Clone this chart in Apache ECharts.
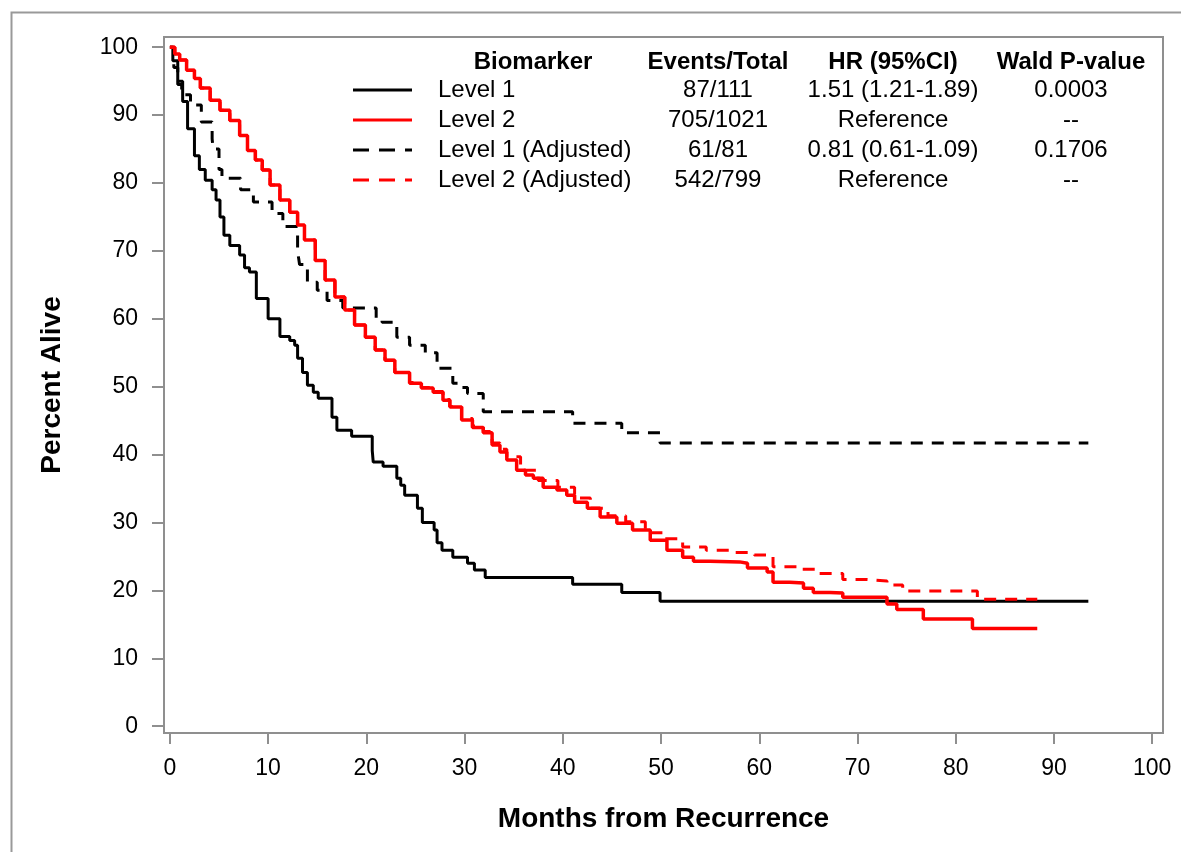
<!DOCTYPE html>
<html>
<head>
<meta charset="utf-8">
<title>Percent Alive by Biomarker</title>
<script src="https://cdn.jsdelivr.net/npm/echarts@6/dist/echarts.min.js"></script>
<style>
  html, body { margin: 0; padding: 0; background: #fff; }
  #chart { width: 1181px; height: 852px; }
</style>
</head>
<body>
<div id="chart"></div>
<script>
// tick labels
var xTicks = [0, 10, 20, 30, 40, 50, 60, 70, 80, 90, 100];
var yTicks = [0, 10, 20, 30, 40, 50, 60, 70, 80, 90, 100];

// legend table
var headers = ['Biomarker', 'Events/Total', 'HR (95%CI)', 'Wald P-value'];
var names = ['Level 1', 'Level 2', 'Level 1 (Adjusted)', 'Level 2 (Adjusted)'];
var events = ['87/111', '705/1021', '61/81', '542/799'];
var hrs = ['1.51 (1.21-1.89)', 'Reference', '0.81 (0.61-1.09)', 'Reference'];
var pvals = ['0.0003', '--', '0.1706', '--'];

// KM curves: [month, percent alive], value holds until the next point
var level1 = [[0,100],[0.3,98],[0.8,95],[1.3,92],[1.8,88],[2.5,84],[3.0,82],[3.6,80.4],[4.3,79],[4.7,77.5],
  [5.1,75],[5.5,72.3],[6.1,70.8],[7.1,69.4],[7.6,67.5],[8.1,66.9],[8.8,63],[10.0,60],[11.2,57.4],[12.2,56.8],
  [12.7,56.1],[13.0,54.2],[13.5,52.1],[14.0,50.2],[14.6,49.2],[15.1,48.3],[16.5,45.5],[17.0,43.6],[18.5,42.7],
  [20.6,40.6],[20.7,38.9],[21.7,38.3],[23.1,36.5],[23.5,35.5],[23.9,34.0],[25.2,32.1],[25.7,30.0],[26.9,28.9],
  [27.2,27.0],[27.7,25.9],[28.8,24.9],[30.3,24.0],[31.0,23.0],[32.1,21.9],[41.0,20.9],[46.0,19.7],[49.9,18.4],
  [93.5,18.4]];

var level2 = [[0,100],[0.5,99],[1.0,98.1],[1.7,96.6],[2.5,95.4],[3.1,94.0],[4.1,92.2],[5.1,90.7],[6.1,89.2],
  [7.1,87.0],[7.9,84.8],[8.7,83.4],[9.4,81.9],[10.2,79.7],[11.2,77.5],[12.2,75.7],[13.0,73.8],[13.7,71.6],
  [14.8,68.6],[15.8,65.7],[16.8,63.2],[17.8,61.3],[18.8,59.1],[19.9,57.3],[20.9,55.4],[21.9,53.9],[22.9,52.1],
  [24.4,50.5],[25.6,49.8],[26.8,49.2],[27.8,48.0],[28.5,47.0],[29.7,45.1],[30.8,44.0],[31.9,43.2],[32.8,41.4],
  [33.6,40.4],[34.3,39.2],[35.3,37.7],[36.2,37.0],[37.0,36.5],[38.0,35.2],[39.4,34.8],[40.4,34.0],[41.2,33.0],
  [42.5,32.1],[43.8,30.8],[45.5,29.9],[47.1,28.9],[48.9,27.4],[50.6,25.9],[52.2,24.9],[53.3,24.3],[55.0,24.2],
  [58.0,24.0],[58.8,23.3],[60.8,22.7],[61.4,21.2],[63.1,21.1],[64.5,20.3],[65.5,19.7],[67.2,19.6],[68.5,19.0],
  [73.0,18.0],[74.0,17.2],[76.7,15.8],[81.7,14.4],[88.3,14.4]];

var level1Adj = [[0,100],[0.4,97],[0.8,94.5],[1.2,93],[2.1,91.5],[3.2,89],[4.3,86.5],[4.4,85],[5.0,82],[5.3,80.7],
  [7.2,79],[8.5,77.2],[10.4,75.5],[11.5,73.6],[13.0,70],[13.2,68],[14.0,65.4],[15.0,64.2],[16.0,62.7],[17.6,61.6],
  [21.0,59.8],[21.6,59.5],[23.1,57.3],[24.4,56.1],[26.0,55.0],[27.2,52.7],[28.8,50.5],[29.3,49.9],[30.3,49.0],
  [31.9,46.3],[41.0,44.6],[46.0,43.2],[49.9,41.7],[93.5,41.7]];

var level2Adj = [[0,100],[0.5,99],[1.0,98.1],[1.7,96.6],[2.5,95.4],[3.1,94.0],[4.1,92.2],[5.1,90.7],[6.1,89.2],
  [7.1,87.0],[7.9,84.8],[8.7,83.4],[9.4,81.9],[10.2,79.7],[11.2,77.5],[12.2,75.7],[13.0,73.8],[13.7,71.6],
  [14.8,68.6],[15.8,65.7],[16.8,63.2],[17.8,61.3],[18.8,59.1],[19.9,57.3],[20.9,55.4],[21.9,53.9],[22.9,52.1],
  [24.4,50.6],[25.6,49.9],[26.8,49.3],[27.8,48.1],[28.5,47.1],[29.7,45.3],[30.8,44.2],[31.9,43.4],[32.8,41.7],
  [33.6,40.8],[34.3,39.7],[35.7,37.7],[37.5,36.2],[39.5,35.2],[41.2,33.6],[42.8,32.1],[44.6,31.0],[46.4,30.1],
  [48.4,28.5],[50.3,27.6],[52.2,26.4],[54.6,25.9],[57.3,25.6],[59.5,25.2],[61.4,23.5],[63.8,23.1],[66.0,22.5],
  [68.5,21.6],[71.0,21.4],[73.0,20.8],[74.6,19.9],[82.2,18.7],[88.3,18.7]];

(function() {
  var FONT = '"Liberation Sans", Arial, sans-serif';
  var frame = '#8f8f8f';
  var colors = ['#000000', '#ff0000', '#000000', '#ff0000'];
  var dashed = [false, false, true, true];
  var widths = [3, 3.5, 3, 3];
  var dash = [12, 9];

  var chart = echarts.init(document.getElementById('chart'), null, { renderer: 'canvas' });

  // legend table drawn as graphic text + sample lines
  var colX = [533, 718, 893, 1071];
  var rowY = [90, 120, 150, 180];
  var g = [];
  // outer border of the figure
  g.push({ type: 'rect', left: 9, top: 10, shape: { width: 1200, height: 900 },
    style: { fill: 'none', stroke: '#999', lineWidth: 2 }, silent: true });
  headers.forEach(function(h, i) {
    g.push({ type: 'text', x: colX[i], y: 62, style: { text: h, align: 'center', verticalAlign: 'middle',
      font: 'bold 24px ' + FONT, fill: '#000' } });
  });
  names.forEach(function(n, i) {
    var y = rowY[i];
    g.push({ type: 'line', shape: { x1: 353, y1: y, x2: 412, y2: y },
      style: { stroke: colors[i], lineWidth: 3, lineDash: dashed[i] ? [16, 10] : null } });
    g.push({ type: 'text', x: 438, y: y, style: { text: n, align: 'left', verticalAlign: 'middle', font: '24px ' + FONT, fill: '#000' } });
    g.push({ type: 'text', x: colX[1], y: y, style: { text: events[i], align: 'center', verticalAlign: 'middle', font: '24px ' + FONT, fill: '#000' } });
    g.push({ type: 'text', x: colX[2], y: y, style: { text: hrs[i], align: 'center', verticalAlign: 'middle', font: '24px ' + FONT, fill: '#000' } });
    g.push({ type: 'text', x: colX[3], y: y, style: { text: pvals[i], align: 'center', verticalAlign: 'middle', font: '24px ' + FONT, fill: '#000' } });
  });

  var seriesData = [level1, level2, level1Adj, level2Adj];
  var series = seriesData.map(function(d, i) {
    return {
      name: names[i],
      type: 'line',
      step: 'end',
      showSymbol: false,
      symbol: 'none',
      data: d,
      z: i === 1 ? 4 : 3,
      lineStyle: { color: colors[i], width: widths[i], type: dashed[i] ? dash : 'solid' }
    };
  });

  var option = {
    animation: false,
    backgroundColor: '#fff',
    grid: {
      left: 164, top: 37, right: 18, bottom: 119,
      show: true, borderColor: frame, borderWidth: 2, backgroundColor: 'transparent'
    },
    xAxis: {
      type: 'value',
      min: -0.6,
      max: 101.1,
      name: 'Months from Recurrence',
      nameLocation: 'middle',
      nameGap: 72,
      nameTextStyle: { fontFamily: FONT, fontSize: 28, fontWeight: 'bold', color: '#000' },
      axisLine: { show: false, onZero: false },
      axisTick: { show: true, length: 11, customValues: xTicks, lineStyle: { color: frame, width: 2 } },
      axisLabel: { customValues: xTicks, margin: 24, fontFamily: FONT, fontSize: 23, color: '#000' },
      splitLine: { show: false }
    },
    yAxis: {
      type: 'value',
      min: -1.0,
      max: 101.5,
      name: 'Percent Alive',
      nameLocation: 'middle',
      nameGap: 98,
      nameTextStyle: { fontFamily: FONT, fontSize: 28, fontWeight: 'bold', color: '#000' },
      axisLine: { show: false, onZero: false },
      axisTick: { show: true, length: 12, customValues: yTicks, lineStyle: { color: frame, width: 2 } },
      axisLabel: { customValues: yTicks, margin: 26, fontFamily: FONT, fontSize: 23, color: '#000' },
      splitLine: { show: false }
    },
    graphic: g,
    series: series
  };

  chart.setOption(option);
  window.addEventListener('resize', function() { chart.resize(); });
})();
</script>
</body>
</html>
